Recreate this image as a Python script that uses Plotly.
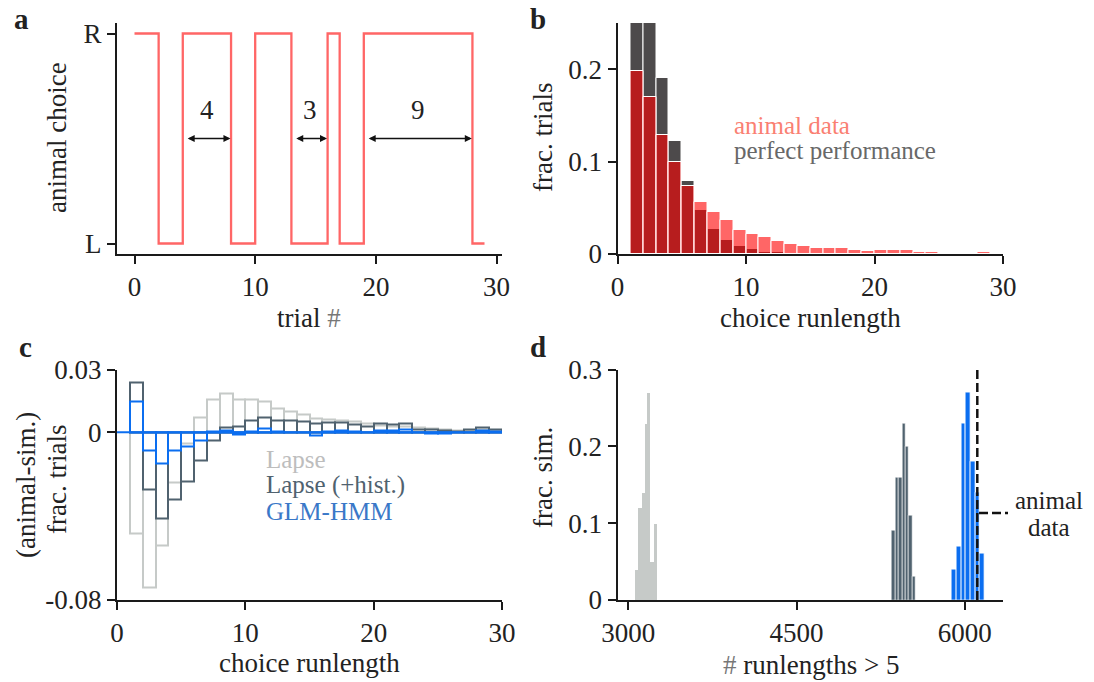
import plotly.graph_objects as go

FONT = "Liberation Serif, DejaVu Serif, serif"
TXT = "#222222"
AX = "#1a1a1a"
FS = 27
LFS = 25

# ---------------- data ----------------
# panel a: example choice sequence
trials = list(range(30))
choices = ['R', 'R', 'L', 'L', 'R', 'R', 'R', 'R', 'L', 'L',
           'R', 'R', 'R', 'L', 'L', 'L', 'R', 'L', 'L', 'R',
           'R', 'R', 'R', 'R', 'R', 'R', 'R', 'R', 'L', 'L']
run_starts = [4, 13, 19]
run_lengths = [4, 3, 9]

# panel b: runlength histograms (bins [k, k+1))
runlength_bins = list(range(1, 30))
animal_frac = [0.198, 0.170, 0.129, 0.0997, 0.074, 0.0563, 0.0455, 0.0369, 0.026, 0.0217,
               0.0185, 0.0142, 0.0108, 0.0087, 0.0066, 0.0066, 0.0066, 0.0047, 0.0036, 0.0047,
               0.0047, 0.0047, 0.0022, 0.0022, 0.0011, 0.0007, 0.0007, 0.0022, 0.0007]
perfect_frac = [0.31, 0.27, 0.190, 0.122, 0.079, 0.0476, 0.027, 0.0151, 0.0087, 0.0056,
                0.0022, 0.0018, 0.0008, 0.0004, 0.0003, 0.0002, 0.0001, 0.0001, 0.0, 0.0,
                0.0, 0.0, 0.0, 0.0, 0.0, 0.0, 0.0, 0.0, 0.0]

# panel c: animal - simulated runlength distributions
lapse_diff = [-0.0482, -0.0742, -0.0541, -0.0240, -0.0051, 0.0071, 0.0155, 0.0185, 0.0155, 0.0155,
              0.0147, 0.0115, 0.0100, 0.0083, 0.0064, 0.0062, 0.0059, 0.0050, 0.0040, 0.0035,
              0.0030, 0.0028, 0.0024, 0.0020, 0.0015, 0.0010, 0.0010, 0.0012, 0.0009]
lapse_hist_diff = [0.0240, -0.0271, -0.0412, -0.0322, -0.0235, -0.0132, -0.0037, 0.0021, 0.0029, 0.0055,
                   0.0073, 0.0059, 0.0056, 0.0052, 0.0043, 0.0048, 0.0048, 0.0036, 0.0030, 0.0043,
                   0.0038, 0.0042, 0.0016, 0.0015, 0.0011, 0.0006, 0.0015, 0.0021, 0.0015]
glmhmm_diff = [0.0148, -0.0086, -0.0148, -0.0087, -0.0068, -0.0038, 0.0002, 0.0010, -0.0008, 0.0006,
               0.0017, 0.0003, 0.0001, -0.0002, -0.0013, 0.0002, 0.0009, 0.0003, 0.0, 0.0008,
               0.0008, 0.0013, 0.0, -0.0005, -0.0007, 0.0001, 0.0, 0.0011, 0.0002]

# panel d: histograms of # runlengths > 5 across simulations
lapse_counts = [3074, 3101, 3128, 3155, 3181, 3208, 3235]
lapse_sim_frac = [0.04, 0.12, 0.14, 0.23, 0.27, 0.05, 0.10]
lapse_hist_counts = [5363, 5394, 5425, 5456, 5486, 5517, 5548]
lapse_hist_sim_frac = [0.09, 0.16, 0.16, 0.23, 0.20, 0.11, 0.03]
glmhmm_counts = [5904, 5946, 5988, 6030, 6072, 6113, 6155]
glmhmm_sim_frac = [0.04, 0.07, 0.23, 0.27, 0.18, 0.14, 0.06]
animal_count = 6111

# colours
RED_LINE = "#ff6666"
GRAY_DARK = "#4d4a4b"
C_LAPSE = "#c6cac8"
C_LHIST = "#50626f"
C_GLM = "#0b6ef0"

# ---------------- figure ----------------
W, H = 1094, 682
fig = go.Figure()

# panel a
choice_num = [1 if c == 'R' else 0 for c in choices]
fig.add_trace(go.Scatter(x=trials, y=choice_num, mode='lines', line_shape='hv',
                         line=dict(color=RED_LINE, width=2.3), xaxis='x', yaxis='y',
                         showlegend=False, hoverinfo='skip'))

# panel b
bin_centers = [b + 0.5 for b in runlength_bins]
fig.add_trace(go.Bar(x=bin_centers, y=perfect_frac, width=1, marker=dict(color=GRAY_DARK,
                     line=dict(color='white', width=1)), xaxis='x2', yaxis='y2', showlegend=False))
fig.add_trace(go.Bar(x=bin_centers, y=animal_frac, width=1, marker=dict(color='rgba(255,0,0,0.6)',
                     line=dict(color='white', width=1)), xaxis='x2', yaxis='y2', showlegend=False))

# panel c
for vals, col in [(lapse_diff, C_LAPSE), (lapse_hist_diff, C_LHIST), (glmhmm_diff, C_GLM)]:
    fig.add_trace(go.Bar(x=bin_centers, y=vals, width=1,
                         marker=dict(color='rgba(0,0,0,0)', line=dict(color=col, width=2)),
                         xaxis='x3', yaxis='y3', showlegend=False))
c_xrange = [0, 30]
fig.add_trace(go.Scatter(x=c_xrange, y=[0, 0], mode='lines', line=dict(color=C_GLM, width=2),
                         xaxis='x3', yaxis='y3', showlegend=False, hoverinfo='skip'))

# panel d
def widths(centers):
    w = centers[1] - centers[0]
    return [w] * len(centers)

for cx, vals, col, lw in [(lapse_counts, lapse_sim_frac, C_LAPSE, 0),
                          (lapse_hist_counts, lapse_hist_sim_frac, C_LHIST, 0.6),
                          (glmhmm_counts, glmhmm_sim_frac, C_GLM, 0.8)]:
    fig.add_trace(go.Bar(x=cx, y=vals, width=widths(cx),
                         marker=dict(color=col, line=dict(color='white', width=lw)),
                         xaxis='x4', yaxis='y4', showlegend=False))
d_yrange = [0, 0.3]
fig.add_trace(go.Scatter(x=[animal_count, animal_count], y=d_yrange, mode='lines',
                         line=dict(color='#111111', width=2.5, dash='9px,4px'),
                         xaxis='x4', yaxis='y4', showlegend=False, hoverinfo='skip'))


def px_x(p):
    return p / W


def px_y(p):
    return 1 - p / H


axis_common = dict(showline=True, linecolor=AX, linewidth=2, ticks='outside', ticklen=8,
                   tickwidth=2, tickcolor=AX, showgrid=False, zeroline=False, automargin=False,
                   tickfont=dict(family=FONT, size=FS, color=TXT), fixedrange=True)

top_dom = [px_y(254), px_y(23)]
bot_dom = [px_y(600), px_y(369.5)]
left_dom = [px_x(117), px_x(502)]
right_dom = [px_x(617.5), px_x(1003)]

fig.update_layout(
    width=W, height=H, margin=dict(l=0, r=0, t=0, b=0, autoexpand=False),
    paper_bgcolor='white', plot_bgcolor='white', barmode='overlay', bargap=0,
    showlegend=False,
    xaxis=dict(axis_common, domain=left_dom, range=[-1.45, 30.45], anchor='y',
               tickvals=[0, 10, 20, 30]),
    yaxis=dict(axis_common, domain=top_dom, range=[-0.05, 1.05], anchor='x',
               tickvals=[0, 1], ticktext=['L', 'R']),
    xaxis2=dict(axis_common, domain=right_dom, range=[0, 30], anchor='y2',
                tickvals=[0, 10, 20, 30]),
    yaxis2=dict(axis_common, domain=top_dom, range=[0, 0.25], anchor='x2',
                tickvals=[0, 0.1, 0.2], ticktext=['0', '0.1', '0.2']),
    xaxis3=dict(axis_common, domain=left_dom, range=c_xrange, anchor='y3',
                tickvals=[0, 10, 20, 30]),
    yaxis3=dict(axis_common, domain=bot_dom, range=[-0.08, 0.03], anchor='x3',
                tickvals=[-0.08, 0, 0.03], ticktext=['-0.08', '0', '0.03']),
    xaxis4=dict(axis_common, domain=right_dom, range=[2905, 6340], anchor='y4',
                tickvals=[3000, 4500, 6000], ticktext=['3000', '4500', '6000']),
    yaxis4=dict(axis_common, domain=bot_dom, range=d_yrange, anchor='x4',
                tickvals=[0, 0.1, 0.2, 0.3], ticktext=['0', '0.1', '0.2', '0.3']),
)

ann = []


def txt(x, y, s, size=FS, color=TXT, xref='paper', yref='paper', xanchor='center',
        yanchor='middle', angle=0, bold=False):
    if bold:
        s = '<b>' + s + '</b>'
    ann.append(dict(x=x, y=y, xref=xref, yref=yref, text=s, showarrow=False,
                    xanchor=xanchor, yanchor=yanchor, textangle=angle, borderpad=0,
                    font=dict(family=FONT, size=size, color=color)))


HASH = '<span style="color:#777777">#</span>'

# panel letters
txt(px_x(21), px_y(19), 'a', size=29, bold=True)
txt(px_x(538), px_y(19), 'b', size=29, bold=True)
txt(px_x(25), px_y(347), 'c', size=29, bold=True)
txt(px_x(538), px_y(347), 'd', size=29, bold=True)

# axis titles
txt(px_x(309), px_y(318), 'trial ' + HASH)
txt(px_x(57), px_y(138), 'animal choice', angle=-90)
txt(px_x(810), px_y(318), 'choice runlength')
txt(px_x(543), px_y(138), 'frac. trials', angle=-90)
txt(px_x(309), px_y(663), 'choice runlength')
txt(px_x(26), px_y(485), '(animal-sim.)', angle=-90)
txt(px_x(57), px_y(480), 'frac. trials', angle=-90)
txt(px_x(811), px_y(665), HASH + ' runlengths > 5')
txt(px_x(543), px_y(478), 'frac. sim.', angle=-90)

# panel a annotations
txt(23.5, 1.063, 'runlength', xref='x', yref='y')
for s, L in zip(run_starts, run_lengths):
    ann.append(dict(x=s + L - 0.05, y=0.5, ax=s + 0.28, ay=0.5, xref='x', yref='y',
                    axref='x', ayref='y', showarrow=True, arrowside='end+start',
                    arrowhead=2, arrowsize=1, arrowwidth=1.4, arrowcolor='#111111', text=''))
    txt(s + L / 2, 0.635, str(L), xref='x', yref='y')

# panel b labels
txt(9.0, 0.139, 'animal data', size=LFS, color='#fa8072', xref='x2', yref='y2', xanchor='left')
txt(9.0, 0.1125, 'perfect performance', size=LFS, color='#686868', xref='x2', yref='y2',
    xanchor='left')

# panel c labels
txt(11.5, -0.0128, 'Lapse', size=LFS, color='#bdbdbd', xref='x3', yref='y3', xanchor='left')
txt(11.5, -0.0250, 'Lapse (+hist.)', size=LFS, color=C_LHIST, xref='x3', yref='y3', xanchor='left')
txt(11.5, -0.0378, 'GLM-HMM', size=LFS, color='#3a78c8', xref='x3', yref='y3', xanchor='left')

# panel d legend
txt(px_x(1049), px_y(500), 'animal', size=LFS)
txt(px_x(1049), px_y(527), 'data', size=LFS)

fig.update_layout(annotations=ann)
fig.add_shape(type='line', xref='paper', yref='paper', x0=px_x(979), x1=px_x(1008),
              y0=px_y(513), y1=px_y(513), line=dict(color='#111111', width=2.5, dash='9px,4px'))

fig.write_html("out.html", config={'displayModeBar': False})
